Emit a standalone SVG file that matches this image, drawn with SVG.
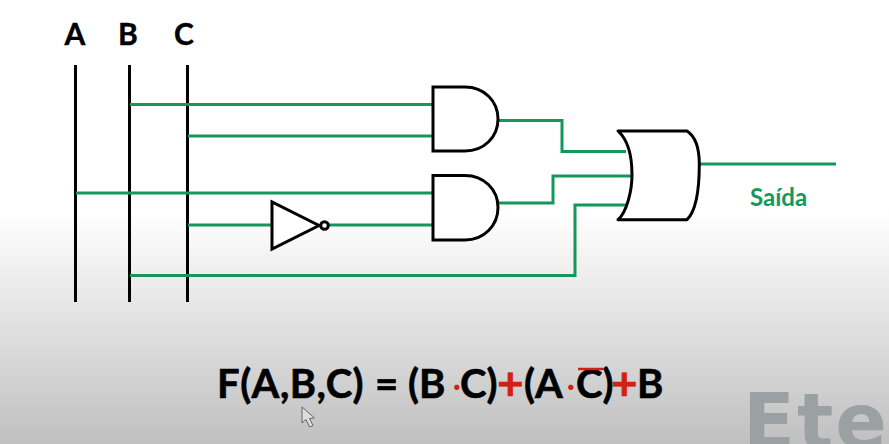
<svg xmlns="http://www.w3.org/2000/svg" width="889" height="444" viewBox="0 0 889 444">
<style>
.w{fill:none;stroke:#14975a;stroke-width:3}
.b{fill:none;stroke:#000;stroke-width:3}
.g{fill:#fff;stroke:#000;stroke-width:3;stroke-linejoin:miter}
.t{font-family:Lato,"Open Sans",sans-serif;font-weight:700;fill:#000}
.f{font-size:40px;stroke:#000;stroke-width:.6}
.r{fill:#d32010;stroke:#d32010}
.p{font-size:46px}
.d{font-size:28px;stroke-width:0}
.l{font-size:30px;text-anchor:middle;stroke:#000;stroke-width:.4}
</style>
<defs><linearGradient id="bg" x1="0" y1="0" x2="0" y2="1"><stop offset="0" stop-color="#fff"/><stop offset="0.48" stop-color="#fff"/><stop offset="0.62" stop-color="#eee"/><stop offset="1" stop-color="#c0c0c0"/></linearGradient></defs>
<rect width="889" height="444" fill="url(#bg)"/>
<text x="743" y="448" font-family="DejaVu Sans,sans-serif" font-weight="700" font-size="76" letter-spacing="2" fill="#9ba0a3">Ete</text>
<g id="bus-a"><text class="t l" x="75" y="45">A</text><path class="b" d="M75.500 65V302"/></g>
<g id="bus-b"><text class="t l" x="128" y="45">B</text><path class="b" d="M129.500 65V302"/></g>
<g id="bus-c"><text class="t l" x="184" y="45">C</text><path class="b" d="M187.500 65V302"/></g>
<g id="connectors">
<path class="w" d="M130 104.500H433M188 136H433M76 193H433M188 225H271M328 225H433M130 275.500H575V205H626"/>
<path class="w" d="M498 120.500H562V151.500H626M498 203H553V176H631M699 164H836"/>
</g>
<g id="and1"><path class="g" d="M433 87H465C484 87 498 101 498 119C498 137 484 151 465 151H433Z"/></g>
<g id="and2"><path class="g" d="M433 175.500H465C484 175.500 498 189.500 498 207.500C498 225.500 484 240 465 240H433Z"/></g>
<g id="not"><path class="g" d="M272 202V249L319 225.500Z"/><circle class="g" cx="324.500" cy="225.500" r="3.800"/></g>
<g id="or"><path class="g" style="stroke-linejoin:round" d="M618 131H687C695.700 136.700 699.300 150 699.300 164C699.300 190 696 211 687 219.700H618C627 212 632 190 632 175C632 155 627 139 618 131Z"/></g>
<g id="saida"><text x="750" y="206" font-family="Lato,sans-serif" font-weight="700" font-size="24" fill="#129a5a">Saída</text></g>
<g id="formula">
<text class="t f" x="217" y="398" letter-spacing=".5">F(A,B,C)</text>
<text class="t f" x="375" y="398">=</text>
<text class="t f" x="408" y="398">(B</text>
<text class="t f d r" x="453" y="396">·</text>
<text class="t f" x="460" y="398">C)</text>
<text class="t f r p" x="497" y="400">+</text>
<text class="t f" x="524" y="398">(A</text>
<text class="t f d r" x="567" y="396">·</text>
<text class="t f" x="576" y="398">C)</text>
<text class="t f r p" x="611" y="400">+</text>
<text class="t f" x="637" y="398">B</text>
<path d="M578 369H603" stroke="#d32010" stroke-width="2.500" fill="none"/>
</g>
<path d="M302 407V423L306 419.500L309.500 427L313 425.500L309.500 418.500L314.500 418Z" fill="#ddd" stroke="#666" stroke-width="1"/>
</svg>
